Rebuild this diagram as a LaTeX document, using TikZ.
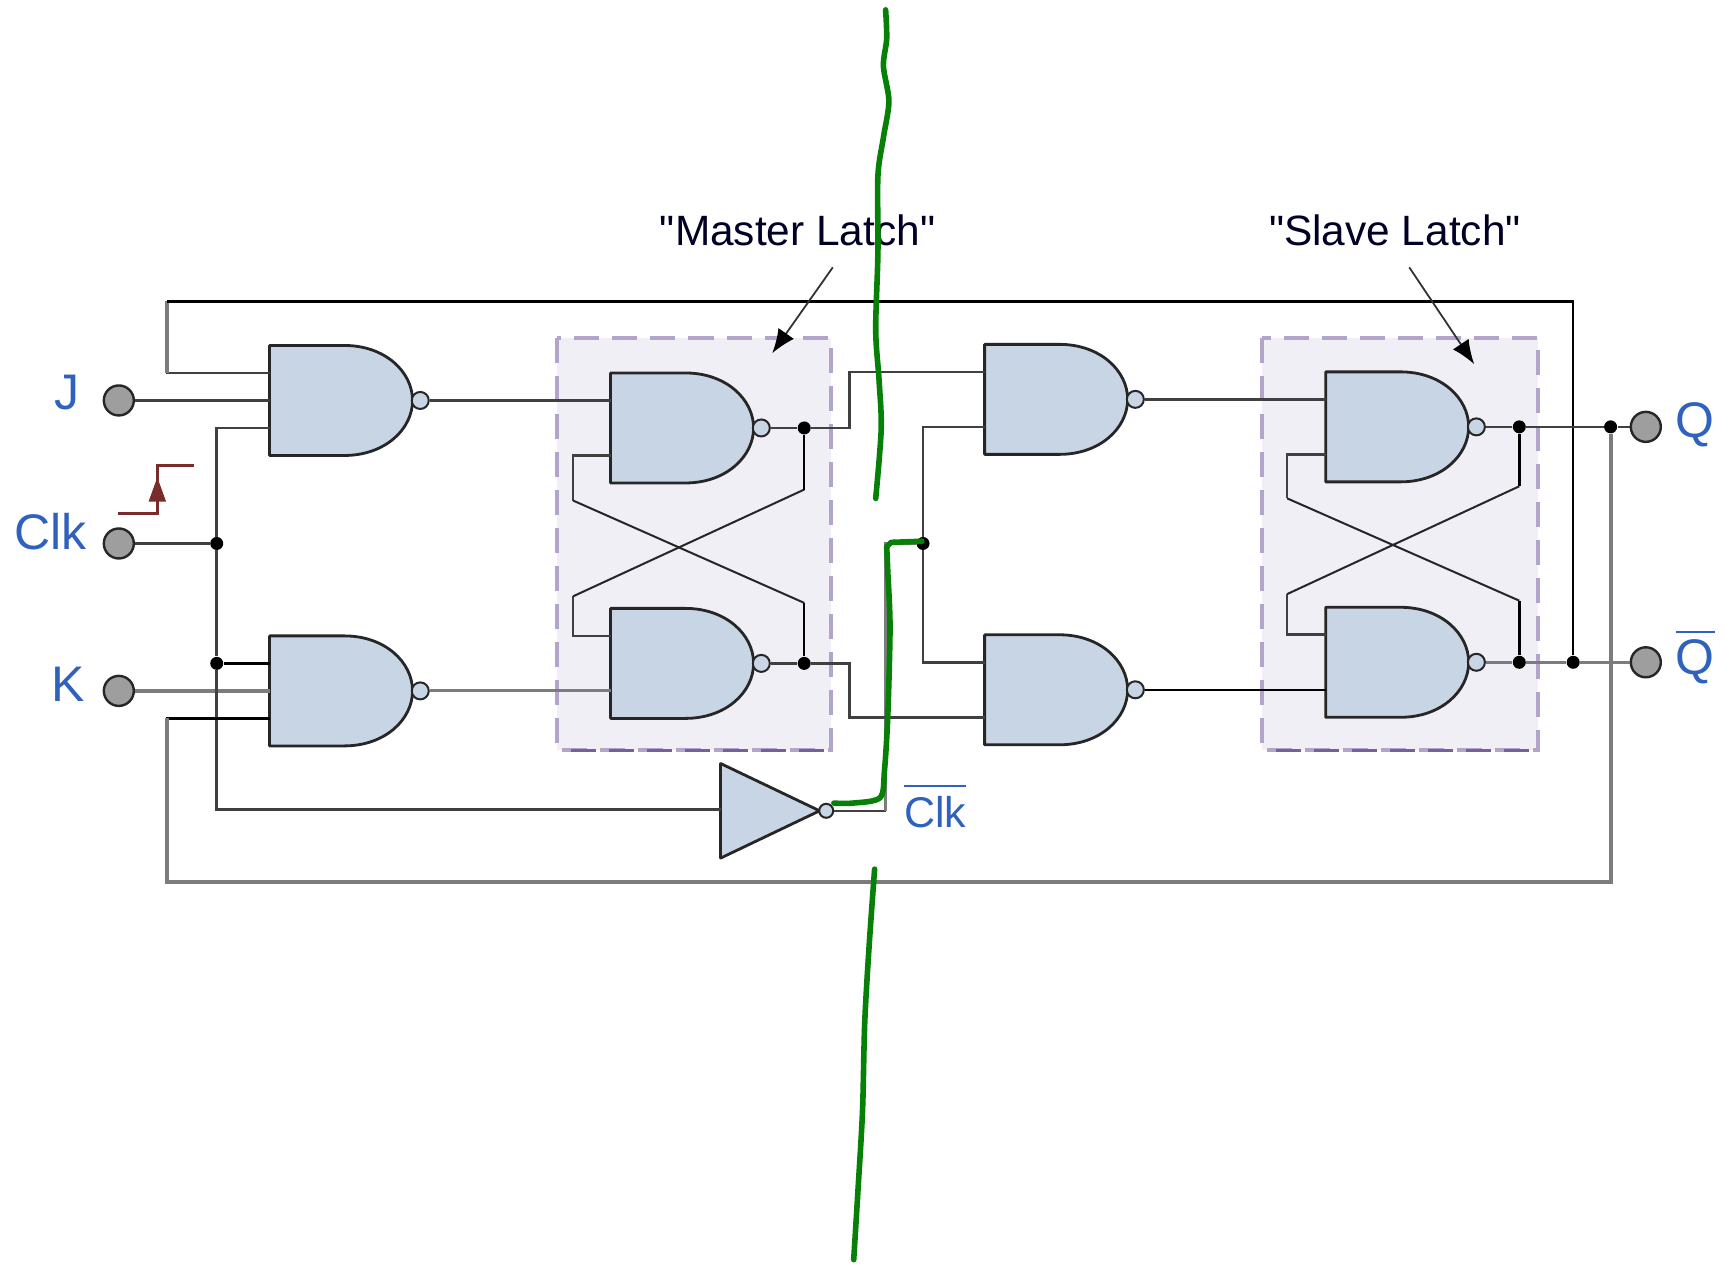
\documentclass[tikz,border=0pt]{standalone}
\usepackage{fontspec}
\setmainfont{Liberation Sans}
\newfontfamily\capfont{Liberation Sans}
\usetikzlibrary{arrows.meta}
\definecolor{gatefill}{HTML}{C8D5E5}
\definecolor{boxfill}{HTML}{F1EFF6}
\definecolor{boxdash}{HTML}{B3A5C9}
\definecolor{boxdark}{HTML}{7460A0}
\definecolor{labelblue}{HTML}{2F62BE}
\definecolor{stepred}{HTML}{7A2C2C}
\definecolor{penGreen}{HTML}{078007}
\definecolor{wiregray}{HTML}{7C7C7C}
\tikzset{
  x=0.55pt, y=-0.55pt,
  gatebody/.style={draw=black!85, line width=1.4pt, fill=gatefill, line join=round},
  bubble/.style={circle, draw=black!85, line width=1pt, fill=gatefill, inner sep=0pt, minimum size=8.5pt},
  terminal/.style={circle, draw=black!85, line width=1.2pt, fill=black!38, inner sep=0pt, minimum size=15pt},
  junction/.style={circle, fill=black, inner sep=0pt, minimum size=6.5pt},
  wire/.style={draw=black!75, line width=1.3pt, line join=miter},
  thickwire/.style={draw=wiregray, line width=2.1pt, line join=miter},
  blackwire/.style={draw=black, line width=1.2pt, line join=miter},
  crosswire/.style={draw=black!85, line width=1pt, line join=miter},
  latchbox/.style={fill=boxfill, draw=boxdash, line width=1.9pt, dash pattern=on 12.5pt off 6.5pt},
  latchfoot/.style={draw=boxdark, line width=1.7pt, dash pattern=on 12.5pt off 6.5pt},
  biglabel/.style={text=labelblue, inner sep=0pt, font=\fontsize{25}{30}\selectfont},
  smalllabel/.style={text=labelblue, inner sep=0pt, font=\fontsize{21.5}{26}\selectfont},
  caption/.style={text=black!85!blue, inner sep=0pt, font=\capfont\fontsize{21.2}{26}\selectfont},
  pointer/.style={draw=black!80, line width=0.9pt, -{Latex[length=12pt,width=9.5pt,color=black]}},
  penstroke/.style={draw=penGreen, line width=2.8pt, line cap=round, line join=round},
}
\newcommand{\nandgate}[3]{%
  \begin{scope}[shift={(#2,#3)}]
    \path[gatebody] (0,0) -- (68,0) .. controls (105,0) and (130,24) .. (130,50)
      .. controls (130,76) and (105,100) .. (68,100) -- (0,100) -- cycle;
    \node[bubble] (#1-o) at (137,50) {};
  \end{scope}}
\newcommand{\gatepins}[3]{%
  \coordinate (#1-a) at (#2,#3+25);
  \coordinate (#1-m) at (#2,#3+50);
  \coordinate (#1-b) at (#2,#3+75);}
\newcommand{\barred}[2]{\vbox{\hrule height 1pt\kern #1\hbox{#2}}}
\begin{document}
\begin{tikzpicture}
\useasboundingbox (0,0) rectangle (1568,1151.6);
\fill[white] (0,0) rectangle (1568,1151.6);

% latch boxes
\path[latchbox] (506,307) rectangle (755,682);
\path[latchbox] (1147,307) rectangle (1398,682);
\draw[latchfoot] (519,682) -- (755,682);
\draw[latchfoot] (1160,682) -- (1398,682);

% pins
\gatepins{g1}{245}{314}
\gatepins{g2}{245}{578}
\gatepins{m1}{555}{339}
\gatepins{m2}{555}{553}
\gatepins{s1}{895}{313}
\gatepins{s2}{895}{577}
\gatepins{t1}{1205}{338}
\gatepins{t2}{1205}{552}

% junctions
\node[junction] (jclk) at (197,494) {};
\node[junction] (jk) at (197,603) {};
\node[junction] (jm1) at (731,389) {};
\node[junction] (jm2) at (731,603) {};
\node[junction] (jc) at (839,494) {};
\node[junction] (jt1) at (1381,388) {};
\node[junction] (jt2) at (1381,602) {};
\node[junction] (jfbk) at (1430,602) {};
\node[junction] (jfbj) at (1464,388) {};

% terminals
\node[terminal] (J) at (108,364) {};
\node[terminal] (Clk) at (108,494) {};
\node[terminal] (K) at (108,628) {};
\node[terminal] (Q) at (1496,388) {};
\node[terminal] (Qb) at (1496,602) {};

% route corners
\coordinate (c1) at (152,274);
\coordinate (c2) at (1430,274);
\coordinate (c3) at (152,802);
\coordinate (c4) at (1464,802);
\coordinate (c5) at (197,736);
\coordinate (invin) at (655,736);
\coordinate (c6) at (805,737);
\coordinate (c7) at (805,494);
\coordinate (mo1) at (772,389);
\coordinate (mo2) at (772,603);
\coordinate (sv) at (839,388);
\coordinate (mxa) at (521,455);
\coordinate (mxb) at (731,548);
\coordinate (mxc) at (521,542);
\coordinate (mxd) at (731,445);
\coordinate (txa) at (1170,453);
\coordinate (txb) at (1381,546);
\coordinate (txc) at (1170,540);
\coordinate (txd) at (1381,442);

% gates
\nandgate{g1}{245}{314}
\nandgate{g2}{245}{578}
\nandgate{m1}{555}{339}
\nandgate{m2}{555}{553}
\nandgate{s1}{895}{313}
\nandgate{s2}{895}{577}
\nandgate{t1}{1205}{338}
\nandgate{t2}{1205}{552}

% inverter
\path[gatebody] (655,694) -- (745,737) -- (655,780) -- cycle;
\node[bubble, minimum size=7pt] (inv-o) at (751,737) {};

% input wires
\draw[wire] (J) -- (g1-m);
\draw[wire] (Clk) -- (jclk);
\draw[thickwire, line width=1.7pt] (K) -- (g2-m);
\draw[wire] (g1-b) -| (jclk);
\draw[wire] (jclk) -- (jk);
\draw[wire] (jk) -- (c5) -- (invin);
\draw[blackwire] (jk) -- (g2-a);
\draw[wire] (inv-o) -- (c6);
\draw[thickwire, line width=1.8pt] (c6) -- (c7) -- (jc);

% feedback
\draw[wire] (g1-a) -| (c1);
\draw[thickwire] (c1 |- g1-a) -- (c1);
\draw[blackwire] (c1) -- (c2) -- (jfbk);
\draw[blackwire, line width=1.4pt] (g2-b) -| (c3);
\draw[thickwire] (c3 |- g2-b) -- (c3) -- (c4) -- (jfbj);

% gate to gate
\draw[wire] (g1-o) -- (m1-a);
\draw[thickwire, line width=1.6pt] (g2-o) -- (m2-b);
\draw[wire] (s1-o) -- (t1-a);
\draw[blackwire] (s2-o) -- (t2-b);
\draw[wire] (m1-o) -- (jm1) -- (mo1) -- (s1-a -| mo1) -- (s1-a);
\draw[wire] (m2-o) -- (jm2) -- (mo2) -- (s2-b -| mo2) -- (s2-b);
\draw[wire] (s1-b) -- (sv) -- (jc) -- (s2-a -| sv) -- (s2-a);
\draw[wire] (t1-o) -- (jt1) -- (jfbj) -- (Q);
\draw[thickwire, line width=1.7pt] (t2-o) -- (jt2) -- (jfbk) -- (Qb);

% cross-coupling
\draw[wire] (m1-b) -| (mxa);
\draw[crosswire] (mxa) -- (mxb);
\draw[blackwire] (mxb) -- (jm2);
\draw[wire] (m2-a) -| (mxc);
\draw[crosswire] (mxc) -- (mxd);
\draw[blackwire] (mxd) -- (jm1);
\draw[wire] (t1-b) -| (txa);
\draw[crosswire] (txa) -- (txb);
\draw[blackwire, line width=1.5pt] (txb) -- (jt2);
\draw[wire] (t2-a) -| (txc);
\draw[crosswire] (txc) -- (txd);
\draw[blackwire, line width=1.5pt] (txd) -- (jt1);

% clock step symbol
\coordinate (st1) at (107,467);
\coordinate (st2) at (143,467);
\coordinate (st3) at (143,423);
\coordinate (st4) at (176,423);
\draw[draw=stepred, line width=1.7pt] (st1) -- (st2) -- (st3) -- (st4);
\fill[stepred] (135,456) -- (151,456) -- (143,434) -- cycle;

% labels
\node[biglabel] (lJ) at (61,357) {J};
\node[biglabel] (lClk) at (46,483) {Clk};
\node[biglabel] (lK) at (62,622) {K};
\node[biglabel] (lQ) at (1541,386) {Q};
\node[biglabel, anchor=base] (lQb) at (1541,613) {\barred{3pt}{Q}};
\node[smalllabel, anchor=base] (lCb) at (850,752) {\barred{4.5pt}{Clk}};
\node[caption] (lm) at (725,209) {"Master Latch"};
\node[caption] (ls) at (1268,209) {"Slave Latch"};

% pointers
\coordinate (pm0) at (757,243);
\coordinate (pm1) at (702,321);
\coordinate (ps0) at (1281,243);
\coordinate (ps1) at (1340,331);
\draw[pointer] (pm0) -- (pm1);
\draw[pointer] (ps0) -- (ps1);

% green pen strokes
\draw[penstroke] plot[smooth] coordinates {(805,9) (806,35) (803,60) (808,92) (803,125) (798,160) (798,230) (796,300) (799,345) (801,390) (796,453)};
\draw[penstroke] plot[smooth] coordinates {(758,730) (775,730) (800,725) (804,700) (807,650) (809,570) (807,520) (806,497)};
\draw[penstroke] (806,497) -- (810,493) -- (838,492);
\draw[penstroke] plot[smooth] coordinates {(795,790) (790,860) (786,930) (784,1010) (780,1080) (776,1145)};
\end{tikzpicture}
\end{document}
